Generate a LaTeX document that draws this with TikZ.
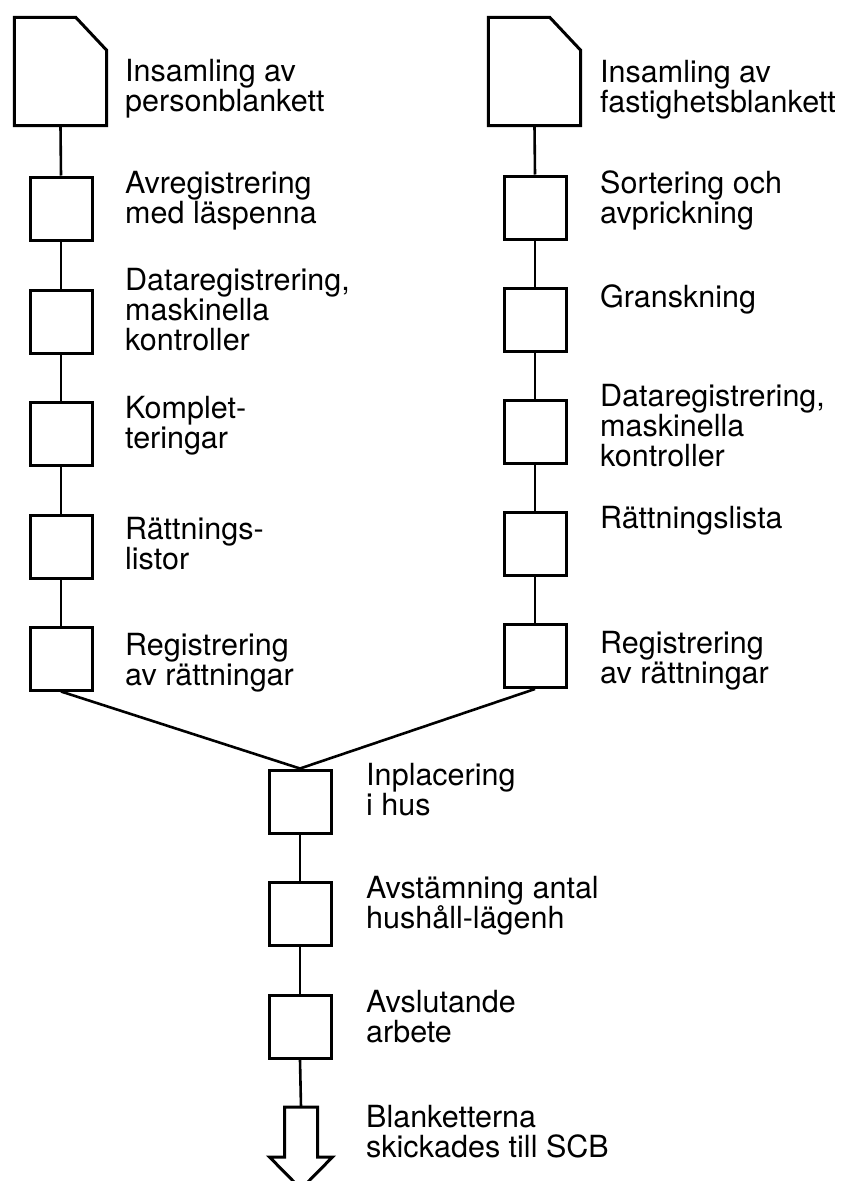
\documentclass[tikz,border=0pt]{standalone}
\usepackage{fontspec}
\setmainfont{TeX Gyre Heros}
\newcommand\mlines[1]{\vtop{\halign{##\hfil\cr#1\crcr}}}
\begin{document}
\begin{tikzpicture}[x=1pt,y=-1pt,
  stepbox/.style={draw, line width=3pt, minimum width=62pt, minimum height=63pt, inner sep=0pt},
  docbox/.style={minimum width=92pt, minimum height=108pt, inner sep=0pt},
  docline/.style={line width=3pt, line join=miter},
  lbl/.style={anchor=base west, inner sep=0pt, font=\fontsize{30.5}{30}\selectfont},
  conn/.style={line width=2.6pt}]
\useasboundingbox (0,0) rectangle (847,1181);
% document shapes
\node[docbox] (dl) at (60.5,71.5) {};
\node[docbox] (dr) at (534.5,71.5) {};
\foreach \d in {dl,dr}{
  \draw[docline] (\d.south west) -- (\d.north west) -- ([xshift=-31pt]\d.north east)
    -- ([yshift=-33pt]\d.north east) -- (\d.south east) -- cycle;
}
% left column
\node[stepbox] (l1) at (61,208.5) {};
\node[stepbox] (l2) at (61,321.5) {};
\node[stepbox] (l3) at (61,434) {};
\node[stepbox] (l4) at (61,546.5) {};
\node[stepbox] (l5) at (61,658.5) {};
% right column
\node[stepbox] (r1) at (535,207.5) {};
\node[stepbox] (r2) at (535,320) {};
\node[stepbox] (r3) at (535,432) {};
\node[stepbox] (r4) at (535,543.5) {};
\node[stepbox] (r5) at (535,656) {};
% center column
\node[stepbox] (c1) at (300,801.5) {};
\node[stepbox] (c2) at (300,913.5) {};
\node[stepbox] (c3) at (300,1027) {};
% final arrow
\coordinate (arr) at (301,1107);
\draw[docline] (arr) ++(-16.5,0) -- ++(0,50) -- ++(-15,0) -- (301,1189) -- (332.5,1157)
   -- ++(-15,0) -- ++(0,-50) -- cycle;
% connectors
\draw[conn] (dl.south) -- (l1.north);
\draw[conn] (l1.south) -- (l2.north);
\draw[conn] (l2.south) -- (l3.north);
\draw[conn] (l3.south) -- (l4.north);
\draw[conn] (l4.south) -- (l5.north);
\draw[conn] (dr.south) -- (r1.north);
\draw[conn] (r1.south) -- (r2.north);
\draw[conn] (r2.south) -- (r3.north);
\draw[conn] (r3.south) -- (r4.north);
\draw[conn] (r4.south) -- (r5.north);
\draw[conn] (l5.south) -- (c1.north);
\draw[conn] (r5.south) -- (c1.north);
\draw[conn] (c1.south) -- (c2.north);
\draw[conn] (c2.south) -- (c3.north);
\draw[conn] (c3.south) -- (arr);
% labels left
\node[lbl] (tl0) at (125,81) {\mlines{Insamling av\cr personblankett}};
\node[lbl] (tl1) at (125,193) {\mlines{Avregistrering\cr med läspenna}};
\node[lbl] (tl2) at (125,290) {\mlines{Dataregistrering,\cr maskinella\cr kontroller}};
\node[lbl] (tl3) at (125,418) {\mlines{Komplet-\cr teringar}};
\node[lbl] (tl4) at (125,539) {\mlines{Rättnings-\cr listor}};
\node[lbl] (tl5) at (125,655) {\mlines{Registrering\cr av rättningar}};
% labels right
\node[lbl] (tr0) at (600,82) {\mlines{Insamling av\cr fastighetsblankett}};
\node[lbl] (tr1) at (600,193) {\mlines{Sortering och\cr avprickning}};
\node[lbl] (tr2) at (600,307) {\mlines{Granskning}};
\node[lbl] (tr3) at (600,406) {\mlines{Dataregistrering,\cr maskinella\cr kontroller}};
\node[lbl] (tr4) at (600,528) {\mlines{Rättningslista}};
\node[lbl] (tr5) at (600,653) {\mlines{Registrering\cr av rättningar}};
% labels center
\node[lbl] (tc1) at (366,785) {\mlines{Inplacering\cr i hus}};
\node[lbl] (tc2) at (366,898) {\mlines{Avstämning antal\cr hushåll-lägenh}};
\node[lbl] (tc3) at (366,1012) {\mlines{Avslutande\cr arbete}};
\node[lbl] (tc4) at (366,1127) {\mlines{Blanketterna\cr skickades till SCB}};
\end{tikzpicture}
\end{document}
